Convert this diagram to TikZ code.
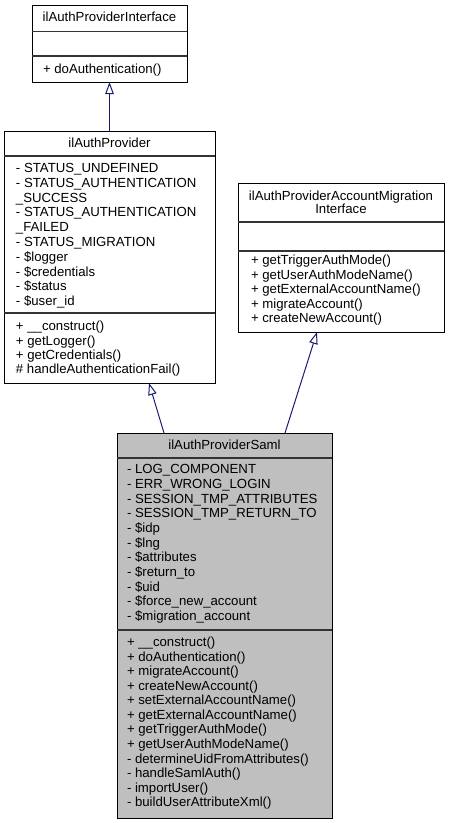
\documentclass[tikz,border=0pt]{standalone}
\usepackage{fontspec}
\setmainfont{Liberation Sans}
\usetikzlibrary{arrows.meta}
\definecolor{edgeblue}{HTML}{191970}
\definecolor{samlgray}{HTML}{BFBFBF}
\begin{document}
\begin{tikzpicture}[x=1pt,y=-1pt,
  box/.style={draw=black, line width=1pt, rectangle, inner sep=0, outer sep=0},
  div/.style={draw=black!80, line width=1.6pt},
  txt/.style={font=\fontsize{13.2}{14.6}\selectfont, inner sep=0, outer sep=0},
  inh/.style={draw=edgeblue, line width=1pt, -{Triangle[open, length=12pt, width=8.5pt]}}]
\useasboundingbox (0,0) rectangle (448,823);

% boxes
\node[box, minimum width=155, minimum height=77] (b1) at (109.5,43.5) {};
\node[box, minimum width=211, minimum height=252] (b2) at (109.5,257) {};
\node[box, minimum width=206, minimum height=149] (b3) at (341,257.5) {};
\node[box, fill=samlgray, minimum width=215, minimum height=385] (b4) at (224.5,625.5) {};

% dividers
\draw[div] (b1.west |- 0,31.5) -- (b1.east |- 0,31.5);
\draw[div] (b1.west |- 0,56) -- (b1.east |- 0,56);
\draw[div] (b2.west |- 0,156) -- (b2.east |- 0,156);
\draw[div] (b2.west |- 0,313) -- (b2.east |- 0,313);
\draw[div] (b3.west |- 0,222) -- (b3.east |- 0,222);
\draw[div] (b3.west |- 0,251) -- (b3.east |- 0,251);
\draw[div] (b4.west |- 0,458) -- (b4.east |- 0,458);
\draw[div] (b4.west |- 0,630) -- (b4.east |- 0,630);

% titles
\node[txt, anchor=base] (t1) at (109.5,21.6) {ilAuthProviderInterface};
\node[txt, anchor=base] (t2) at (109.5,147.6) {ilAuthProvider};
\node[txt, anchor=base] (t3a) at (341,200.6) {ilAuthProviderAccountMigration};
\node[txt, anchor=base] (t3b) at (341,213.9) {Interface};
\node[txt, anchor=base] (t4) at (224.5,449.6) {ilAuthProviderSaml};

% ilAuthProviderInterface
\node[txt, anchor=base west] (m1) at (43,73.6) {+ doAuthentication()};

% ilAuthProvider
\foreach \t [count=\i] in {- STATUS\_UNDEFINED, - STATUS\_AUTHENTICATION, \_SUCCESS, - STATUS\_AUTHENTICATION, \_FAILED, - STATUS\_MIGRATION, - \$logger, - \$credentials, - \$status, - \$user\_id}
  \node[txt, anchor=base west] (a2\i) at (16,{172.6+14.78*(\i-1)}) {\t};
\foreach \t [count=\i] in {+ \_\_construct(), + getLogger(), + getCredentials(), \# handleAuthenticationFail()}
  \node[txt, anchor=base west] (m2\i) at (16,{330.6+14.4*(\i-1)}) {\t};

% ilAuthProviderAccountMigrationInterface
\foreach \t [count=\i] in {+ getTriggerAuthMode(), + getUserAuthModeName(), + getExternalAccountName(), + migrateAccount(), + createNewAccount()}
  \node[txt, anchor=base west] (m3\i) at (251,{264.6+14.5*(\i-1)}) {\t};

% ilAuthProviderSaml
\foreach \t [count=\i] in {- LOG\_COMPONENT, - ERR\_WRONG\_LOGIN, - SESSION\_TMP\_ATTRIBUTES, - SESSION\_TMP\_RETURN\_TO, - \$idp, - \$lng, - \$attributes, - \$return\_to, - \$uid, - \$force\_new\_account, - \$migration\_account}
  \node[txt, anchor=base west] (a4\i) at (127,{473.6+14.7*(\i-1)}) {\t};
\foreach \t [count=\i] in {+ \_\_construct(), + doAuthentication(), + migrateAccount(), + createNewAccount(), + setExternalAccountName(), + getExternalAccountName(), + getTriggerAuthMode(), + getUserAuthModeName(), - determineUidFromAttributes(), - handleSamlAuth(), - importUser(), - buildUserAttributeXml()}
  \node[txt, anchor=base west] (m4\i) at (127,{646.6+14.55*(\i-1)}) {\t};

% inheritance connectors
\draw[inh] (b2.north) -- (b1.south);
\draw[inh] ([xshift=47pt]b4.north west) -- ([xshift=145pt]b2.south west);
\draw[inh] ([xshift=168pt]b4.north west) -- ([xshift=79pt]b3.south west);
\end{tikzpicture}
\end{document}
